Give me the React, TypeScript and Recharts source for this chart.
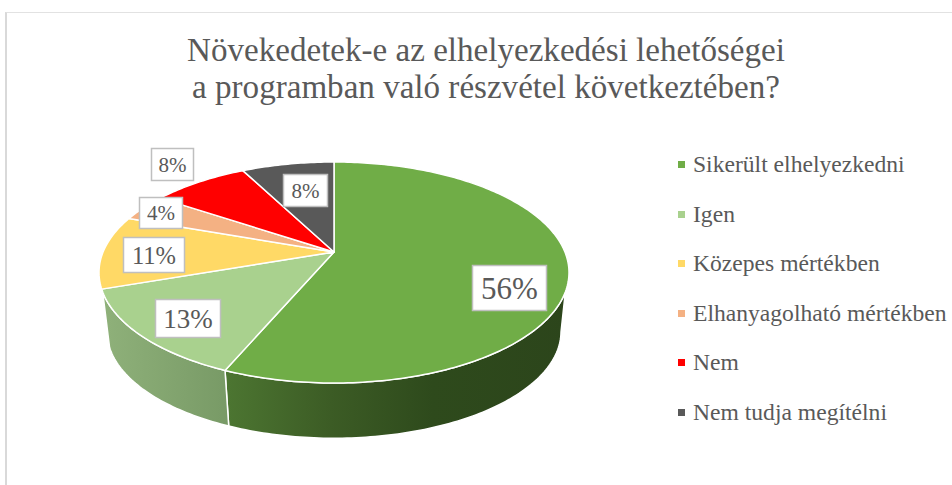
import { PieChart, Pie, Legend } from "recharts";

const categories = [
  "Sikerült elhelyezkedni",
  "Igen",
  "Közepes mértékben",
  "Elhanyagolható mértékben",
  "Nem",
  "Nem tudja megítélni",
];
// slice sizes, the printed labels are these rounded
const sliceValues = [56.4, 13.3, 10.7, 4.0, 8.0, 7.6];
const percentLabels = ["56%", "13%", "11%", "4%", "8%", "8%"];

const COLORS = ["#70AD47", "#A9D18E", "#FFD966", "#F4B183", "#FF0000", "#595959"];
const TEXT = "#595959";
const FONT = "'Liberation Serif', serif";

const data = categories.map((name, i) => ({
  name,
  value: sliceValues[i],
  fill: COLORS[i],
}));

// label boxes: centre, size, font size
const LABEL_BOXES = [
  { x: 509.5, y: 288, w: 74, h: 45, fs: 31 },
  { x: 188, y: 318.5, w: 65, h: 38, fs: 27 },
  { x: 154, y: 255, w: 61, h: 35, fs: 24.5 },
  { x: 161, y: 213, w: 43, h: 31, fs: 21 },
  { x: 172.5, y: 164.5, w: 42, h: 32, fs: 21 },
  { x: 305.5, y: 190.5, w: 44, h: 32, fs: 21 },
];

// perspective of the pie's top face
const K = 0.1855;
const RY_RATIO = 106.7 / 235;
const WALL_SCALE = 0.966;
const WALL_DROP = 59.7;
const WALL_TOP = [110.5, 249.5];
const WALL_BOTTOM = [101, 259];

function project(cx: number, cy: number, r: number, deg: number) {
  const t = (deg * Math.PI) / 180;
  const u = Math.sin(t);
  const v = -Math.cos(t);
  const d = 1 - K * v;
  return {
    x: cx + (r * Math.sqrt(1 - K * K) * u) / d,
    y: cy + (r * RY_RATIO * v) / d,
  };
}

function sweep(cx: number, cy: number, r: number, from: number, to: number) {
  const n = Math.max(2, Math.ceil(Math.abs(to - from)));
  const pts = [];
  for (let i = 0; i <= n; i++) {
    const p = project(cx, cy, r, from + ((to - from) * i) / n);
    pts.push(`${p.x.toFixed(2)},${p.y.toFixed(2)}`);
  }
  return pts;
}

function Slice3D(props: any) {
  const { cx, cy, outerRadius, startAngle, endAngle, fill, index } = props;
  // recharts angles run counter-clockwise from 3 o'clock, here clockwise from 12
  const a0 = 90 - startAngle;
  const a1 = 90 - endAngle;
  const top = `M${cx},${cy}L${sweep(cx, cy, outerRadius, a0, a1).join("L")}Z`;

  let wall = null;
  const wallFrom = Math.max(a0, WALL_TOP[0]);
  const wallTo = Math.min(a1, WALL_TOP[1]);
  if (wallFrom < wallTo) {
    const botFrom = Math.max(a0, WALL_BOTTOM[0]);
    const botTo = Math.min(a1, WALL_BOTTOM[1]);
    const topPts = sweep(cx, cy, outerRadius, wallFrom, wallTo);
    const botPts = sweep(cx, cy + WALL_DROP, outerRadius * WALL_SCALE, botTo, botFrom);
    wall = (
      <path
        d={`M${topPts.join("L")}L${botPts.join("L")}Z`}
        fill={`url(#wall${index})`}
        stroke="#fff"
        strokeWidth={1.5}
        strokeLinejoin="round"
      />
    );
  }

  return (
    <g>
      <defs>
        <linearGradient id="wall0" gradientUnits="userSpaceOnUse" x1="228" x2="569" y1="0" y2="0">
          <stop offset="0" stopColor="#4c7531" />
          <stop offset="0.3" stopColor="#3c5c25" />
          <stop offset="0.6" stopColor="#2e4a1c" />
          <stop offset="1" stopColor="#2c451b" />
        </linearGradient>
        <linearGradient id="wall1" gradientUnits="userSpaceOnUse" x1="102" x2="228" y1="0" y2="0">
          <stop offset="0" stopColor="#8fb17a" />
          <stop offset="1" stopColor="#789a66" />
        </linearGradient>
      </defs>
      {wall}
      <path d={top} fill={fill} stroke="#fff" strokeWidth={1.5} strokeLinejoin="round" />
    </g>
  );
}

function BoxLabel({ index }: any) {
  const b = LABEL_BOXES[index];
  return (
    <g>
      <rect
        x={b.x - b.w / 2}
        y={b.y - b.h / 2}
        width={b.w}
        height={b.h}
        fill="#fff"
        stroke="#bfbfbf"
        strokeWidth={1.5}
      />
      <text
        x={b.x}
        y={b.y}
        textAnchor="middle"
        dominantBaseline="central"
        fontFamily={FONT}
        fontSize={b.fs}
        fill={TEXT}
      >
        {percentLabels[index]}
      </text>
    </g>
  );
}

function LegendList({ payload }: any) {
  return (
    <div>
      {(payload || []).map((item: any) => (
        <div
          key={item.value}
          style={{
            display: "flex",
            alignItems: "center",
            height: 49.5,
            whiteSpace: "nowrap",
            fontFamily: FONT,
            fontSize: 23.6,
            color: TEXT,
          }}
        >
          <span
            style={{
              width: 7,
              height: 7,
              marginRight: 8,
              background: item.color,
            }}
          />
          {item.value}
        </div>
      ))}
    </div>
  );
}

export default function App() {
  return (
    <div style={{ position: "absolute", left: 0, top: 0, width: 952, height: 485, background: "#fff", overflow: "hidden" }}>
      <div
        style={{
          position: "absolute",
          left: 5,
          top: 12,
          width: 960,
          height: 490,
          borderLeft: "2px solid #d9d9d9",
          borderTop: "1.5px solid #e2e2e2",
        }}
      />
      <div style={{ position: "absolute", left: 0, top: 0 }}>
        <PieChart width={952} height={485} margin={{ top: 0, right: 0, bottom: 0, left: 0 }}>
          <text x={486} y={61} textAnchor="middle" fontFamily={FONT} fontSize={33.1} fill={TEXT}>
            Növekedetek-e az elhelyezkedési lehetőségei
          </text>
          <text x={486} y={98} textAnchor="middle" fontFamily={FONT} fontSize={33.1} fill={TEXT}>
            a programban való részvétel következtében?
          </text>
          <Pie
            data={data}
            dataKey="value"
            nameKey="name"
            cx={334}
            cy={252}
            outerRadius={235}
            startAngle={90}
            endAngle={-270}
            paddingAngle={0}
            stroke="#fff"
            shape={Slice3D}
            label={BoxLabel}
            labelLine={false}
            isAnimationActive={false}
          />
          <Legend
            layout="vertical"
            verticalAlign="top"
            align="right"
            itemSorter={null}
            wrapperStyle={{ left: 678, top: 140, width: 274 }}
            content={LegendList}
          />
        </PieChart>
      </div>
    </div>
  );
}
